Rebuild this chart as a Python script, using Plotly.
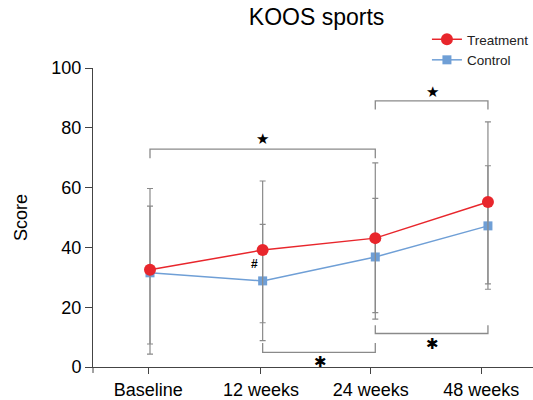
import plotly.graph_objects as go

categories = ["Baseline", "12 weeks", "24 weeks", "48 weeks"]
x_pos = [0, 1, 2, 3]
tick_pos = [-0.015, 0.985, 1.96, 2.94]

treat_mean = [32.5, 39.1, 43.1, 55.2]
treat_upper = [59.7, 62.2, 68.3, 82.0]
treat_lower = [4.3, 8.8, 16.0, 26.0]

ctrl_mean = [31.5, 28.8, 36.8, 47.2]
ctrl_upper = [53.8, 47.7, 56.4, 67.3]
ctrl_lower = [7.7, 14.8, 18.2, 27.8]

# significance brackets: (x_start, x_end, bar_y, leg_end_y)
brackets = [
    (0, 2, 72.9, 69.8),
    (2, 3, 89.0, 86.1),
    (1, 2, 4.9, 8.0),
    (2, 3, 11.2, 14.0),
]
# star marks: (x, y, symbol)
stars = [
    (1.0, 76.2, "★"),
    (2.51, 92.0, "★"),
    (1.51, 1.6, "✱"),
    (2.51, 7.8, "✱"),
]
hash_mark = (0.93, 34.3, "#")

FONT = "Liberation Sans, Arial, sans-serif"
RED = "#e8262c"
BLUE = "#6f9fd6"
GREY = "#8a8a8a"

fig = go.Figure()

for (xa, xb, yb, yl) in brackets:
    fig.add_trace(go.Scatter(
        x=[xa, xa, xb, xb], y=[yl, yb, yb, yl], mode="lines",
        line=dict(color=GREY, width=1.3), showlegend=False, hoverinfo="skip"))

fig.add_trace(go.Scatter(
    x=x_pos, y=ctrl_mean, mode="lines+markers", name="Control",
    line=dict(color=BLUE, width=1.5),
    marker=dict(symbol="square", size=9, color=BLUE),
    error_y=dict(type="data", symmetric=False,
                 array=[u - m for u, m in zip(ctrl_upper, ctrl_mean)],
                 arrayminus=[m - l for l, m in zip(ctrl_lower, ctrl_mean)],
                 color=GREY, thickness=1.2, width=3),
    legendrank=2))

fig.add_trace(go.Scatter(
    x=x_pos, y=treat_mean, mode="lines+markers", name="Treatment",
    line=dict(color=RED, width=1.5),
    marker=dict(symbol="circle", size=12, color=RED),
    error_y=dict(type="data", symmetric=False,
                 array=[u - m for u, m in zip(treat_upper, treat_mean)],
                 arrayminus=[m - l for l, m in zip(treat_lower, treat_mean)],
                 color=GREY, thickness=1.2, width=3),
    legendrank=1))

annotations = []
for (sx, sy, s) in stars:
    annotations.append(dict(x=sx, y=sy, text=s, showarrow=False,
                            font=dict(family="DejaVu Sans", size=15, color="black")))
annotations.append(dict(x=hash_mark[0], y=hash_mark[1], text="<b>#</b>", showarrow=False,
                        font=dict(family=FONT, size=12, color="black")))
annotations.append(dict(x=-0.165, y=0.5, xref="paper", yref="paper", text="Score",
                        xanchor="center", yanchor="middle",
                        textangle=-90, showarrow=False,
                        font=dict(family=FONT, size=18, color="black")))

fig.update_layout(
    width=533, height=400,
    margin=dict(l=93, r=0, t=68, b=33, autoexpand=False),
    paper_bgcolor="white", plot_bgcolor="white",
    title=dict(text="KOOS sports", x=0.594, xanchor="center", y=0.958, yanchor="middle",
               font=dict(family=FONT, size=23, color="black")),
    font=dict(family=FONT, color="black"),
    showlegend=True,
    legend=dict(xref="container", yref="container", x=0.801, y=0.94,
                xanchor="left", yanchor="top",
                font=dict(family=FONT, size=13.5, color="#222"),
                bgcolor="rgba(0,0,0,0)", tracegroupgap=0),
    annotations=annotations,
    shapes=[dict(type="line", xref="paper", yref="paper", x0=0, x1=0, y0=0, y1=-0.02,
                 line=dict(color="#444", width=1))],
)

fig.update_xaxes(range=[-0.506, 3.40], tickvals=tick_pos, ticktext=categories,
                 showline=True, linecolor="#444", linewidth=1,
                 ticks="outside", ticklen=6, tickcolor="#444",
                 showgrid=False, zeroline=False, automargin=False,
                 tickfont=dict(family=FONT, size=18, color="black"))
fig.update_yaxes(range=[0, 100], tickvals=[0, 20, 40, 60, 80, 100],
                 showline=True, linecolor="#444", linewidth=1,
                 ticks="outside", ticklen=7, tickcolor="#444",
                 showgrid=False, zeroline=False, automargin=False,
                 tickfont=dict(family=FONT, size=18, color="black"))

fig.write_html("out.html", config={"displayModeBar": False},
               post_script="document.body.style.margin='0';document.body.style.overflow='hidden';")
